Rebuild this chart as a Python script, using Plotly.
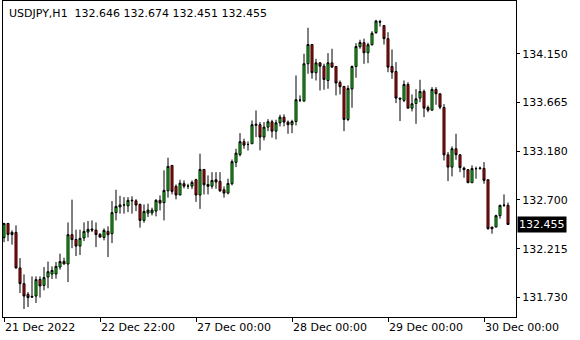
import plotly.graph_objects as go

symbol_label = "USDJPY,H1  132.646 132.674 132.451 132.455"

bar_index = list(range(127))

opens = [132.325, 132.466, 132.355, 132.377, 132.024, 131.868, 131.762, 131.742, 131.745, 131.910,
         131.850, 131.934, 131.964, 131.964, 132.033, 132.090, 132.063, 132.354, 132.307, 132.241,
         132.321, 132.380, 132.410, 132.400, 132.357, 132.327, 132.387, 132.364, 132.573, 132.630,
         132.650, 132.640, 132.690, 132.690, 132.655, 132.496, 132.568, 132.570, 132.588, 132.695,
         132.672, 132.790, 133.042, 132.834, 132.748, 132.860, 132.836, 132.836, 132.900, 132.748,
         133.002, 132.853, 132.836, 132.900, 132.883, 132.800, 132.767, 132.860, 133.072, 133.150,
         133.277, 133.250, 133.257, 133.440, 133.446, 133.323, 133.422, 133.475, 133.382, 133.465,
         133.520, 133.472, 133.446, 133.478, 133.690, 133.680, 134.051, 134.242, 133.962, 134.060,
         134.027, 133.885, 134.060, 134.024, 133.865, 133.826, 133.498, 133.800, 134.024, 134.220,
         134.260, 134.160, 134.240, 134.360, 134.470, 134.430, 134.300, 134.024, 133.974, 133.710,
         133.687, 133.846, 133.610, 133.657, 133.710, 133.776, 133.617, 133.590, 133.796, 133.753,
         133.617, 133.147, 133.025, 133.207, 133.148, 133.015, 133.000, 132.870, 133.010, 133.010,
         133.012, 132.900, 132.430, 132.430, 132.543, 132.645, 132.646]

highs = [132.470, 132.470, 132.397, 132.447, 132.122, 131.960, 131.785, 131.940, 131.940, 131.940,
         132.033, 132.087, 132.040, 132.083, 132.166, 132.126, 132.476, 132.702, 132.404, 132.404,
         132.476, 132.490, 132.496, 132.476, 132.370, 132.417, 132.437, 132.688, 132.800, 132.740,
         132.727, 132.727, 132.735, 132.707, 132.662, 132.655, 132.662, 132.622, 132.707, 132.744,
         132.993, 133.118, 133.042, 132.853, 132.900, 132.893, 132.860, 132.893, 132.910, 133.158,
         133.002, 132.943, 132.975, 132.975, 132.975, 132.833, 132.910, 133.101, 133.207, 133.362,
         133.307, 133.280, 133.488, 133.588, 133.472, 133.472, 133.501, 133.495, 133.495, 133.545,
         133.548, 133.488, 133.495, 133.935, 133.737, 134.150, 134.408, 134.242, 134.100, 134.067,
         134.051, 134.156, 134.200, 134.024, 133.885, 133.826, 133.836, 134.034, 134.255, 134.289,
         134.300, 134.260, 134.374, 134.487, 134.487, 134.430, 134.364, 134.193, 134.067, 133.713,
         133.885, 133.868, 133.746, 133.799, 133.892, 133.796, 133.637, 133.819, 133.819, 133.753,
         133.650, 133.174, 133.230, 133.356, 133.148, 133.030, 133.000, 133.042, 133.030, 133.030,
         133.075, 132.900, 132.430, 132.553, 132.652, 132.754, 132.674]

lows = [132.280, 132.290, 132.255, 132.017, 131.775, 131.616, 131.636, 131.730, 131.676, 131.730,
        131.802, 131.822, 131.914, 131.918, 132.007, 132.060, 131.884, 132.220, 132.142, 132.152,
        132.291, 132.327, 132.380, 132.231, 132.325, 132.298, 132.132, 132.271, 132.496, 132.563,
        132.563, 132.578, 132.563, 132.588, 132.424, 132.473, 132.530, 132.545, 132.536, 132.595,
        132.496, 132.722, 132.754, 132.705, 132.748, 132.814, 132.807, 132.807, 132.680, 132.610,
        132.754, 132.754, 132.810, 132.810, 132.777, 132.722, 132.754, 132.843, 133.025, 133.131,
        133.207, 133.190, 133.257, 133.323, 133.191, 133.290, 133.382, 133.317, 133.300, 133.429,
        133.429, 133.356, 133.362, 133.439, 133.670, 133.680, 133.952, 133.902, 133.885, 133.786,
        133.793, 133.803, 134.017, 133.737, 133.746, 133.382, 133.481, 133.614, 133.912, 134.200,
        134.050, 134.057, 134.232, 134.348, 134.420, 134.242, 133.967, 133.902, 133.660, 133.482,
        133.670, 133.610, 133.578, 133.455, 133.670, 133.521, 133.570, 133.587, 133.644, 133.600,
        133.091, 132.886, 132.933, 133.098, 132.975, 132.920, 132.870, 132.870, 132.910, 133.000,
        132.860, 132.404, 132.364, 132.430, 132.513, 132.630, 132.451]

closes = [132.466, 132.357, 132.377, 132.024, 131.868, 131.745, 131.729, 131.735, 131.908, 131.845,
          131.928, 131.987, 132.000, 132.040, 132.087, 132.063, 132.354, 132.305, 132.241, 132.318,
          132.387, 132.407, 132.400, 132.355, 132.330, 132.397, 132.354, 132.573, 132.635, 132.650,
          132.650, 132.695, 132.695, 132.648, 132.496, 132.585, 132.598, 132.598, 132.695, 132.668,
          132.794, 133.032, 132.784, 132.748, 132.866, 132.836, 132.836, 132.873, 132.748, 133.002,
          132.850, 132.834, 132.893, 132.877, 132.790, 132.767, 132.863, 133.079, 133.164, 133.277,
          133.243, 133.250, 133.446, 133.450, 133.323, 133.422, 133.475, 133.382, 133.465, 133.521,
          133.472, 133.446, 133.478, 133.694, 133.690, 134.051, 134.242, 133.962, 134.060, 134.027,
          133.895, 134.061, 134.017, 133.860, 133.823, 133.498, 133.806, 134.024, 134.222, 134.262,
          134.160, 134.240, 134.354, 134.475, 134.465, 134.300, 134.017, 133.967, 133.710, 133.700,
          133.845, 133.610, 133.654, 133.703, 133.776, 133.610, 133.590, 133.796, 133.753, 133.620,
          133.147, 133.025, 133.207, 133.148, 133.020, 133.000, 132.870, 133.010, 133.010, 133.015,
          132.893, 132.414, 132.414, 132.543, 132.645, 132.648, 132.455]

x_tick_index = [0, 24, 48, 72, 96, 120]
x_tick_labels = ["21 Dec 2022", "22 Dec 22:00", "27 Dec 00:00", "28 Dec 00:00", "29 Dec 00:00", "30 Dec 00:00"]
y_tick_values = [131.730, 132.215, 132.700, 133.180, 133.665, 134.150]
last_price = 132.455

FONT = "DejaVu Sans"

fig = go.Figure()
fig.add_trace(go.Candlestick(
    x=bar_index, open=opens, high=highs, low=lows, close=closes,
    increasing=dict(line=dict(color="black", width=1), fillcolor="#00ff00"),
    decreasing=dict(line=dict(color="black", width=1), fillcolor="#ff0000"),
    whiskerwidth=0, showlegend=False, hoverinfo="skip",
))

fig.update_layout(
    width=580, height=340,
    margin=dict(l=3, r=64, t=1, b=23),
    paper_bgcolor="white", plot_bgcolor="white",
    font=dict(family=FONT, size=11, color="black"),
    showlegend=False,
    boxgap=0.5, boxgroupgap=0,
    xaxis=dict(
        range=[-0.25, 128.0], rangeslider=dict(visible=False),
        showgrid=False, zeroline=False,
        showline=True, linecolor="black", linewidth=1, mirror=True,
        ticks="outside", ticklen=4, tickcolor="black", tickwidth=1,
        tickvals=x_tick_index, ticktext=x_tick_labels,
        ticklabelposition="outside right",
        tickfont=dict(family=FONT, size=11, color="black"),
    ),
    yaxis=dict(
        range=[131.537, 134.674], side="right",
        showgrid=False, zeroline=False,
        showline=True, linecolor="black", linewidth=1, mirror=True,
        ticks="outside", ticklen=3, tickcolor="black", tickwidth=1,
        tickvals=y_tick_values, ticktext=[f"{v:.3f}" for v in y_tick_values],
        tickfont=dict(family=FONT, size=11, color="black"),
    ),
    annotations=[
        dict(text=symbol_label, xref="paper", yref="paper", x=0, y=1,
             xanchor="left", yanchor="top", xshift=4, yshift=-4, showarrow=False,
             font=dict(family=FONT, size=11, color="black")),
        dict(text=f"{last_price:.3f}", xref="paper", yref="y", x=1, y=last_price,
             xanchor="left", yanchor="middle", xshift=1, showarrow=False,
             bgcolor="black", borderpad=1,
             font=dict(family=FONT, size=11, color="white")),
    ],
)

fig.write_html("out.html")
